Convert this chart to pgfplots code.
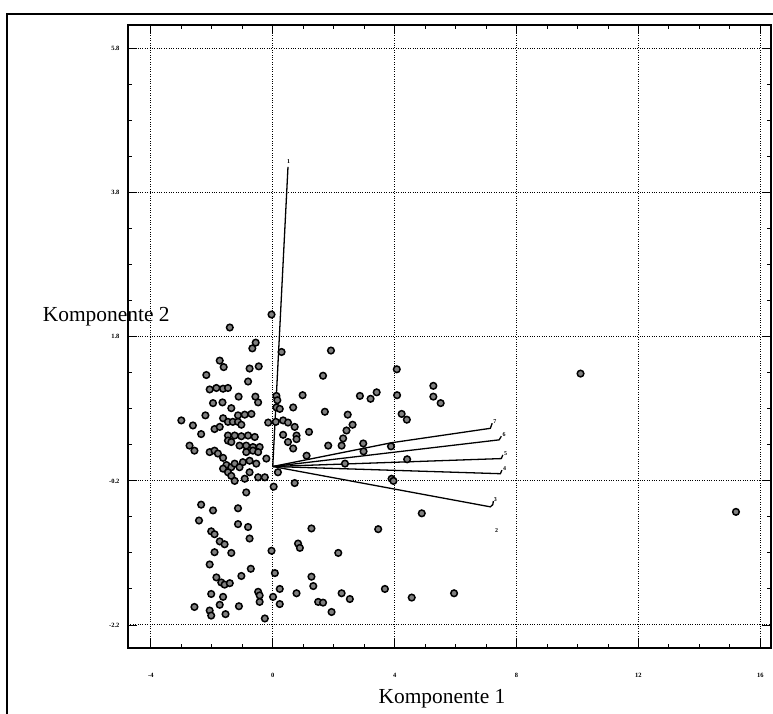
\documentclass[border=0pt]{standalone}
\usepackage{fontspec}
\setmainfont{Liberation Serif}
\usepackage{pgfplots}
\pgfplotsset{compat=1.18}
\usepackage{pgfplotstable}

% component scores (Komponente 1, Komponente 2)
\pgfplotstableread{
x y
-0.04 2.11
-1.41 1.93
-0.67 1.64
-0.56 1.72
1.91 1.61
0.29 1.59
-1.74 1.47
-1.61 1.38
-0.76 1.36
-0.46 1.39
1.65 1.26
-2.18 1.27
-0.81 1.18
-2.07 1.07
-1.85 1.09
-1.63 1.08
-1.47 1.09
-1.12 0.97
-0.57 0.97
-0.48 0.89
0.98 0.99
2.86 0.98
-1.96 0.88
-1.65 0.89
-1.36 0.81
0.12 0.98
0.15 0.92
0.12 0.82
0.23 0.80
0.67 0.82
1.71 0.76
-2.21 0.71
-1.14 0.71
-0.92 0.72
-0.70 0.73
2.46 0.72
-3.00 0.64
-1.63 0.67
-1.47 0.62
-1.31 0.62
-1.14 0.62
-1.03 0.58
-2.62 0.57
-1.91 0.52
-1.74 0.55
-0.15 0.61
0.10 0.62
0.34 0.64
0.50 0.61
0.72 0.55
2.62 0.58
-2.35 0.45
-1.47 0.43
-1.25 0.43
-1.03 0.42
-0.81 0.43
-0.59 0.41
0.34 0.44
0.78 0.43
1.19 0.48
2.42 0.50
-1.47 0.36
-1.36 0.34
0.50 0.34
0.78 0.38
2.31 0.39
-2.73 0.29
-2.57 0.22
-1.09 0.29
-0.87 0.29
-0.65 0.27
-0.43 0.27
0.67 0.25
1.82 0.29
2.26 0.29
2.97 0.32
-2.07 0.20
-1.91 0.22
-1.80 0.18
-0.87 0.20
-0.65 0.22
-0.48 0.20
-1.63 0.12
1.11 0.15
-0.98 0.06
-0.76 0.08
-0.54 0.04
-0.21 0.11
-1.52 0.02
-1.36 -0.01
-1.25 0.04
2.37 0.04
-1.63 -0.03
-1.47 -0.08
-1.09 -0.01
-0.76 -0.08
0.17 -0.08
-1.36 -0.13
-1.25 -0.20
-0.92 -0.17
-0.48 -0.15
-0.26 -0.15
0.72 -0.23
0.03 -0.28
-0.87 -0.36
-2.35 -0.53
-1.96 -0.61
-1.14 -0.58
-2.42 -0.75
-1.14 -0.80
-0.81 -0.84
1.27 -0.86
-2.02 -0.90
-1.91 -0.94
-0.76 -1.00
-1.74 -1.04
-1.58 -1.08
0.83 -1.07
0.89 -1.13
-0.04 -1.17
-1.91 -1.19
-1.36 -1.20
2.15 -1.20
-2.07 -1.36
-0.72 -1.42
-1.03 -1.52
0.07 -1.48
-1.85 -1.54
-1.69 -1.61
-1.58 -1.64
-1.41 -1.62
1.27 -1.53
1.33 -1.66
-0.48 -1.74
-0.43 -1.79
-2.02 -1.77
0.23 -1.70
0.78 -1.76
2.26 -1.76
-1.63 -1.81
0.01 -1.81
1.49 -1.88
1.65 -1.89
2.53 -1.84
-0.43 -1.88
-2.57 -1.95
-1.74 -1.92
-1.11 -1.94
0.23 -1.91
1.93 -2.02
-2.07 -2.00
-2.02 -2.07
-1.55 -2.05
-0.26 -2.11
4.07 1.35
5.27 1.12
5.27 0.97
5.51 0.88
3.21 0.94
3.41 1.03
4.08 0.99
4.23 0.73
4.40 0.65
2.98 0.21
3.88 0.28
4.41 0.10
3.90 -0.17
3.96 -0.20
4.89 -0.65
3.46 -0.87
10.10 1.29
15.20 -0.63
3.68 -1.70
4.56 -1.82
5.95 -1.76
}\scores

\begin{document}
\begin{tikzpicture}
\useasboundingbox (0,0) rectangle (773bp,714bp);
% outer frame of the scan
\draw[line width=1.1pt] (7bp,0bp) -- (7bp,700bp) -- (773bp,700bp);
\begin{axis}[
  at={(128bp,66bp)},anchor=south west,
  scale only axis,
  width=643bp,height=623bp,
  xmin=-4.75,xmax=16.35,
  ymin=-2.52,ymax=6.13,
  xtick={-4,0,4,8,12,16},
  xticklabels={-4,0,4,8,12,16},
  ytick={-2.2,-0.2,1.8,3.8,5.8},
  yticklabels={-2.2,-0.2,1.8,3.8,5.8},
  minor x tick num=3,
  minor y tick num=3,
  tick align=inside,
  major tick length=9bp,
  minor tick length=4bp,
  tick style={black,line width=0.9pt},
  axis line style={line width=1.3pt},
  xmajorgrids,ymajorgrids,
  grid style={black,dotted,line width=1pt},
  ticklabel style={font=\fontsize{6.5}{7}\selectfont\bfseries},
  xticklabel style={yshift=-22bp},
  yticklabel style={xshift=-5bp},
  clip=false,
]
  % loading vectors
  \addplot[black,line width=1.3pt] coordinates {(0,0) (0.50,4.16)};
  \addplot[black,line width=1.3pt] coordinates {(0,0) (3.90,0.33) (7.14,0.53) (7.20,0.60)};
  \addplot[black,line width=1.3pt] coordinates {(0,0) (7.43,0.37) (7.50,0.42)};
  \addplot[black,line width=1.3pt] coordinates {(0,0) (7.50,0.11) (7.55,0.16)};
  \addplot[black,line width=1.3pt] coordinates {(0,0) (7.47,-0.10) (7.52,-0.05)};
  \addplot[black,line width=1.3pt] coordinates {(0,0) (7.14,-0.56) (7.22,-0.53) (7.24,-0.48)};
  % scores
  \addplot[only marks,mark=*,mark size=3.3bp,
    mark options={draw=black,fill=black!50,line width=1.5pt}] table[x=x,y=y]{\scores};
  % vector numbers
  \begin{scope}[font=\fontsize{6}{7}\selectfont\bfseries]
  \node[anchor=south] at (axis cs:0.52,4.16) {1};
  \node[anchor=west,inner sep=1pt] at (axis cs:7.20,0.62) {7};
  \node[anchor=west,inner sep=1pt] at (axis cs:7.50,0.44) {6};
  \node[anchor=west,inner sep=1pt] at (axis cs:7.55,0.18) {5};
  \node[anchor=west,inner sep=1pt] at (axis cs:7.52,-0.03) {4};
  \node[anchor=west,inner sep=1pt] at (axis cs:7.22,-0.46) {3};
  \node at (axis cs:7.35,-0.89) {2};
  \end{scope}
\end{axis}
\node[anchor=base west,font=\fontsize{21.5}{24}\selectfont,inner sep=0pt] at (42.7bp,392bp) {Komponente 2};
\node[anchor=base,font=\fontsize{21.5}{24}\selectfont,inner sep=0pt] at (442bp,11bp) {Komponente 1};
\end{tikzpicture}
\end{document}
